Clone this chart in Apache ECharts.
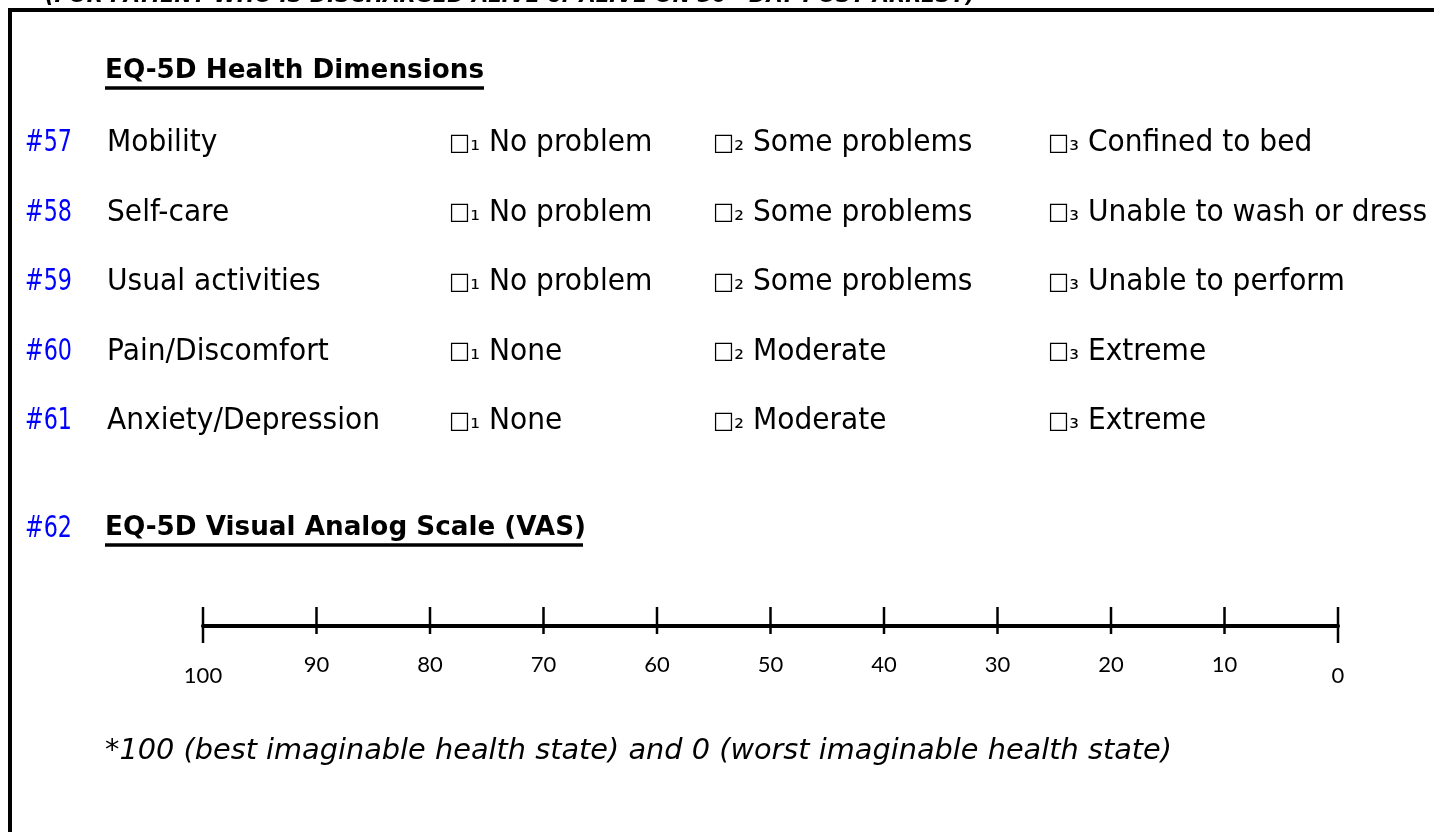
<!DOCTYPE html>
<html><head><meta charset="utf-8">
<script src="https://cdn.jsdelivr.net/npm/echarts@6/dist/echarts.min.js"></script>
<style>html,body{margin:0;padding:0;background:#fff;overflow:hidden}#c{width:1434px;height:832px}</style>
</head><body><div id="c"></div>
<script>
// ---- content ----
const topNote = '(FOR PATIENT WHO IS DISCHARGED ALIVE or ALIVE ON 30{sup|th} DAY POST ARREST)';
const sectionTitle = 'EQ-5D Health Dimensions';
const itemIds = ['#57', '#58', '#59', '#60', '#61'];
const dimensions = ['Mobility', 'Self-care', 'Usual activities', 'Pain/Discomfort', 'Anxiety/Depression'];
const level1 = ['No problem', 'No problem', 'No problem', 'None', 'None'];
const level2 = ['Some problems', 'Some problems', 'Some problems', 'Moderate', 'Moderate'];
const level3 = ['Confined to bed', 'Unable to wash or dress', 'Unable to perform', 'Extreme', 'Extreme'];
const levelCodes = ['\u2081', '\u2082', '\u2083'];
const vasId = '#62';
const vasTitle = 'EQ-5D Visual Analog Scale (VAS)';
const vasTicks = [100, 90, 80, 70, 60, 50, 40, 30, 20, 10, 0];
const footnote = '*100 (best imaginable health state) and 0 (worst imaginable health state)';

// ---- layout helpers ----
const FAM = '"DejaVu Sans", "Noto Sans", sans-serif';
const cv = document.createElement('canvas').getContext('2d');
function measure(text, font) { cv.font = font; return cv.measureText(text).width; }
const BODY = '30px ' + FAM;
const BOLD = 'bold 27px ' + FAM;
const ITAL = 'italic 28px ' + FAM;
const TOPF = 'italic bold 22px ' + FAM;
const bodyScale = 273 / measure('Anxiety/Depression', BODY);
const idScale = 47 / measure('#61', BODY);
const boldScale = 379 / measure(sectionTitle, BOLD);
const italScale = 1067 / measure(footnote, ITAL);
const topScale = 940 / measure('(FOR PATIENT WHO IS DISCHARGED ALIVE or ALIVE ON 30th DAY POST ARREST)', TOPF);

const rowY = [143.5, 213, 282.5, 352, 421.5];
const colX = [449, 713, 1048];
const levels = [level1, level2, level3];

function txt(x, y, text, font, scale, fill, extra) {
  return {
    type: 'text', x: x, y: y, scaleX: scale, silent: true,
    style: Object.assign({ text: text, font: font, fill: fill || '#000', textVerticalAlign: 'middle', textAlign: 'left' }, extra || {})
  };
}
const graphics = [];
// frame
graphics.push({ type: 'line', shape: { x1: 8, y1: 10, x2: 1434, y2: 10 }, style: { stroke: '#000', lineWidth: 4 } });
graphics.push({ type: 'line', shape: { x1: 10, y1: 8, x2: 10, y2: 832 }, style: { stroke: '#000', lineWidth: 4 } });
// clipped top note
graphics.push(txt(45, -4, topNote, TOPF, topScale, '#000', { rich: { sup: { fontSize: 13, fontWeight: 'bold', fontStyle: 'italic', fontFamily: FAM, verticalAlign: 'top' } } }));
// section title
graphics.push(txt(105, 70.5, sectionTitle, BOLD, boldScale));
graphics.push({ type: 'line', shape: { x1: 105, y1: 88, x2: 484, y2: 88 }, style: { stroke: '#000', lineWidth: 3.5 } });
// rows
for (let i = 0; i < itemIds.length; i++) {
  graphics.push(txt(25, rowY[i], itemIds[i], BODY, idScale, '#0000ff'));
  graphics.push(txt(107, rowY[i], dimensions[i], BODY, bodyScale));
  for (let k = 0; k < 3; k++) {
    graphics.push(txt(colX[k], rowY[i], '{b|\u25A1}{s|' + levelCodes[k] + '} ' + levels[k][i], BODY, bodyScale, '#000', {
      rich: {
        b: { fontSize: 24, fontFamily: FAM, fill: '#000' },
        s: { fontSize: 26, fontFamily: FAM, fill: '#000' }
      }
    }));
  }
}
// VAS heading
graphics.push(txt(25, 529, vasId, BODY, idScale, '#0000ff'));
graphics.push(txt(105, 528, vasTitle, BOLD, boldScale));
graphics.push({ type: 'line', shape: { x1: 105, y1: 545, x2: 583, y2: 545 }, style: { stroke: '#000', lineWidth: 3.5 } });
// footnote
graphics.push(txt(105, 752, footnote, ITAL, italScale));

const LBL = 'Lato, "Open Sans", sans-serif';
const chart = echarts.init(document.getElementById('c'), null, { renderer: 'canvas' });
chart.setOption({
  backgroundColor: '#fff',
  animation: false,
  grid: { left: 203, right: 96, top: 560, bottom: 206 },
  xAxis: {
    type: 'value', min: 0, max: 100, interval: 10, inverse: true,
    axisLine: { lineStyle: { color: '#000', width: 4 } },
    axisTick: { show: false }, splitLine: { show: false },
    axisLabel: {
      margin: 28, color: '#000', fontFamily: LBL, fontSize: 22,
      showMinLabel: true, showMaxLabel: true,
      formatter: function (v) { return (v === 0 || v === 100) ? '{e|' + v + '}' : '{m|' + v + '}'; },
      rich: {
        m: { fontFamily: LBL, fontSize: 22, lineHeight: 22, color: '#000' },
        e: { fontFamily: LBL, fontSize: 22, lineHeight: 44, color: '#000' }
      }
    }
  },
  yAxis: { type: 'value', min: 0, max: 1, show: false },
  series: [{
    type: 'custom', clip: false, silent: true,
    data: vasTicks.map(function (v) { return [v, 0]; }),
    renderItem: function (params, api) {
      const v = api.value(0);
      const p = api.coord([v, 0]);
      const end = (v === 0 || v === 100);
      return { type: 'line', shape: { x1: p[0], y1: p[1] - 19, x2: p[0], y2: p[1] + (end ? 17 : 8) }, style: { stroke: '#000', lineWidth: 2.5 } };
    }
  }],
  graphic: { elements: graphics }
});
</script></body></html>
